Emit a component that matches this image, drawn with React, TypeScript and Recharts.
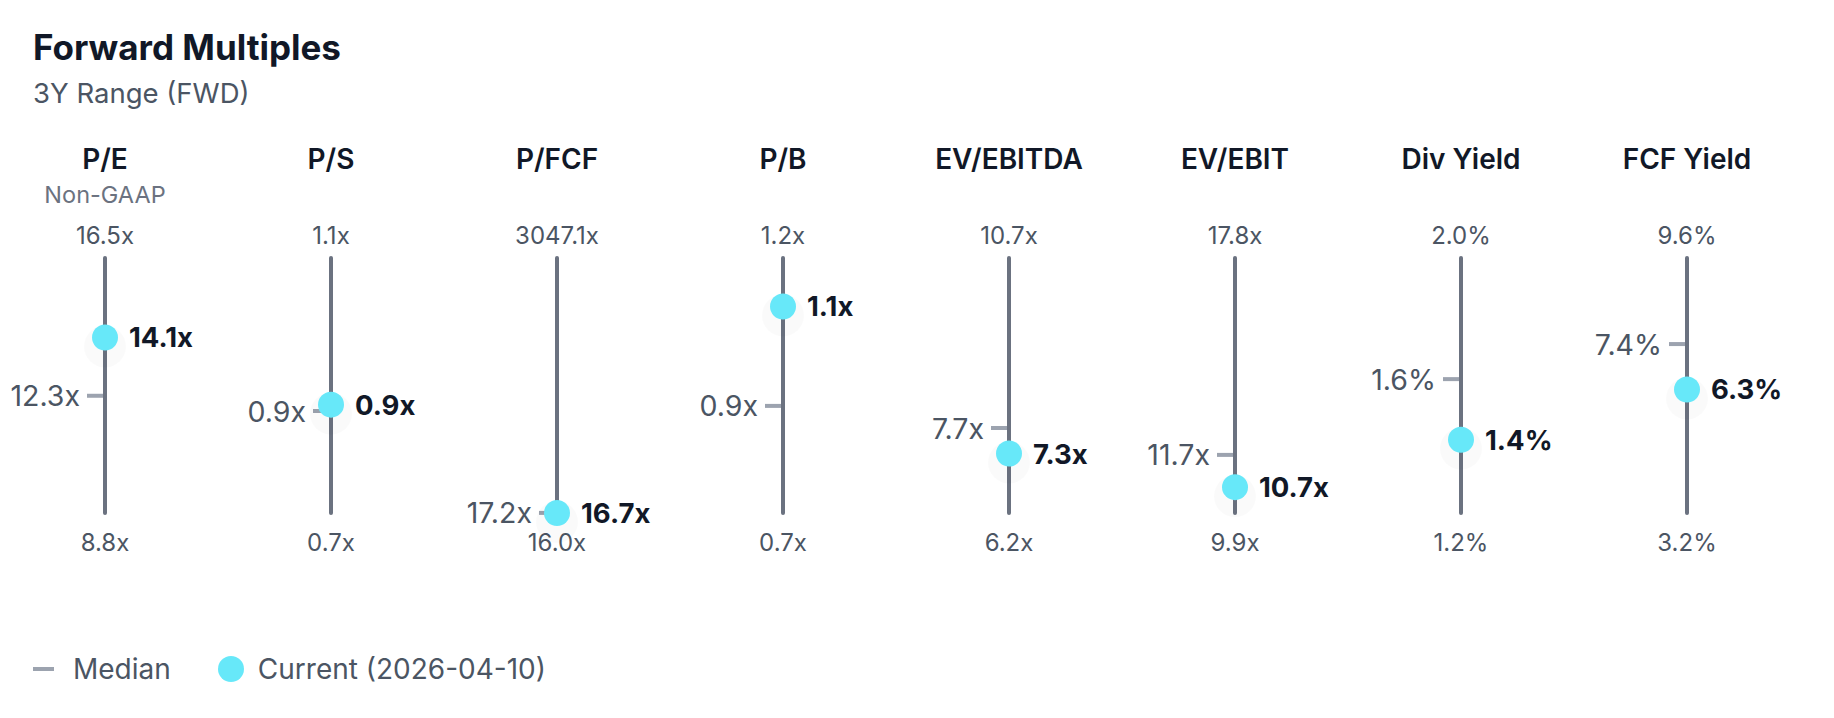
import React from 'react';
import { ComposedChart, Scatter, XAxis, YAxis } from 'recharts';

// ---- data ----
const metrics = ['P/E', 'P/S', 'P/FCF', 'P/B', 'EV/EBITDA', 'EV/EBIT', 'Div Yield', 'FCF Yield'];
const notes = ['Non-GAAP', '', '', '', '', '', '', ''];
const units = ['x', 'x', 'x', 'x', 'x', 'x', '%', '%'];
const highValues = [16.5, 1.1, 3047.1, 1.2, 10.7, 17.8, 2.0, 9.6];
const lowValues = [8.8, 0.7, 16.0, 0.7, 6.2, 9.9, 1.2, 3.2];
const medianValues = [12.34, 0.86, 17.2, 0.91, 7.7, 11.7, 1.62, 7.44];
const currentValues = [14.1, 0.87, 16.7, 1.105, 7.25, 10.7, 1.43, 6.3];
const legendItems = ['Median', 'Current (2026-04-10)'];
const titleText = 'Forward Multiples';
const subtitleText = '3Y Range (FWD)';

// ---- style constants ----
const FONT = 'Inter, "Noto Sans", sans-serif';
const W = 1818;
const H = 702;
const C_DARK = '#111827';
const C_MID = '#4b5563';
const C_LIGHT = '#6b7280';
const C_RANGE = '#6b7280';
const C_MEDIAN = '#9ca3af';
const C_DOT = '#67e8f9';

const fmt = (v: number, unit: string) => v.toFixed(1) + unit;
const norm = (i: number, v: number) => (v - lowValues[i]) / (highValues[i] - lowValues[i]);

const highPoints = metrics.map((_, i) => ({ x: i, y: norm(i, highValues[i]), label: fmt(highValues[i], units[i]) }));
const lowPoints = metrics.map((_, i) => ({ x: i, y: norm(i, lowValues[i]), label: fmt(lowValues[i], units[i]) }));
const medianPoints = metrics.map((_, i) => ({ x: i, y: norm(i, medianValues[i]), label: fmt(medianValues[i], units[i]) }));
const currentPoints = metrics.map((_, i) => ({ x: i, y: norm(i, currentValues[i]), label: fmt(currentValues[i], units[i]) }));
const rangeSegments = metrics.map((_, i) => [
  { x: i, y: norm(i, lowValues[i]) },
  { x: i, y: norm(i, highValues[i]) },
]);

const Empty = () => <g />;

const HighLabel = (p: any) => (
  <text x={p.cx} y={p.cy - 23} textAnchor="middle" dominantBaseline="central" fontSize={24} fill={C_MID} fontFamily={FONT}>
    {p.payload.label}
  </text>
);

const LowLabel = (p: any) => (
  <text x={p.cx} y={p.cy + 29} textAnchor="middle" dominantBaseline="central" fontSize={24} fill={C_MID} fontFamily={FONT}>
    {p.payload.label}
  </text>
);

const MedianMark = (p: any) => (
  <g>
    <line x1={p.cx - 18} x2={p.cx - 2} y1={p.cy} y2={p.cy} stroke={C_MEDIAN} strokeWidth={4} />
    <text x={p.cx - 25} y={p.cy} textAnchor="end" dominantBaseline="central" fontSize={28.5} fill={C_MID} fontFamily={FONT}>
      {p.payload.label}
    </text>
  </g>
);

const CurrentMark = (p: any) => (
  <g>
    <circle cx={p.cx} cy={p.cy + 9} r={21} fill="#000" opacity={0.018} />
    <circle cx={p.cx} cy={p.cy} r={13} fill={C_DOT} />
    <text x={p.cx + 24} y={p.cy} textAnchor="start" dominantBaseline="central" fontSize={27.5} fontWeight={700} fill={C_DARK} fontFamily={FONT}>
      {p.payload.label}
    </text>
  </g>
);

const HeaderTick = (p: any) => {
  const i = p.payload.value;
  return (
    <g>
      <text x={p.x} y={151} textAnchor="middle" dominantBaseline="central" fontSize={28} fontWeight={600} fill={C_DARK} fontFamily={FONT}>
        {metrics[i]}
      </text>
      {notes[i] ? (
        <text x={p.x} y={186} textAnchor="middle" dominantBaseline="central" fontSize={23.5} fill={C_LIGHT} fontFamily={FONT}>
          {notes[i]}
        </text>
      ) : null}
    </g>
  );
};

export default function App() {
  return (
    <div style={{ position: 'relative', width: W, height: H, fontFamily: FONT, background: '#fff' }}>
      <div style={{ position: 'absolute', left: 25, top: 22, fontSize: 35, lineHeight: '35px', fontWeight: 700, color: C_DARK, whiteSpace: 'nowrap' }}>
        {titleText}
      </div>
      <div style={{ position: 'absolute', left: 25, top: 72, fontSize: 27.5, lineHeight: '27.5px', fontWeight: 400, color: C_MID, whiteSpace: 'nowrap' }}>
        {subtitleText}
      </div>
      <ComposedChart width={W} height={H} margin={{ top: 130, right: 139, bottom: 197, left: 97 }}>
        <XAxis
          xAxisId={0}
          dataKey="x"
          type="number"
          orientation="top"
          domain={[0, 7]}
          ticks={[0, 1, 2, 3, 4, 5, 6, 7]}
          interval={0}
          height={120}
          axisLine={false}
          tickLine={false}
          tick={<HeaderTick />}
        />
        <YAxis yAxisId={0} dataKey="y" type="number" domain={[0, 1]} hide />
        {rangeSegments.map((seg, i) => (
          <Scatter
            key={'range' + i}
            data={seg}
            line={{ stroke: C_RANGE, strokeWidth: 4, strokeLinecap: 'round' }}
            shape={<Empty />}
            isAnimationActive={false}
          />
        ))}
        <Scatter data={highPoints} shape={<HighLabel />} isAnimationActive={false} />
        <Scatter data={lowPoints} shape={<LowLabel />} isAnimationActive={false} />
        <Scatter data={medianPoints} shape={<MedianMark />} isAnimationActive={false} />
        <Scatter data={currentPoints} shape={<CurrentMark />} isAnimationActive={false} />
      </ComposedChart>
      <div style={{ position: 'absolute', left: 25, top: 641, height: 40, display: 'flex', alignItems: 'center', fontSize: 28, color: C_MID, whiteSpace: 'nowrap' }}>
        <span style={{ display: 'inline-block', width: 21, height: 4, background: C_MEDIAN, marginRight: 19 }} />
        <span>{legendItems[0]}</span>
        <span style={{ display: 'inline-block', width: 26, height: 26, borderRadius: 13, background: C_DOT, marginLeft: 47, marginRight: 14 }} />
        <span>{legendItems[1]}</span>
      </div>
    </div>
  );
}
